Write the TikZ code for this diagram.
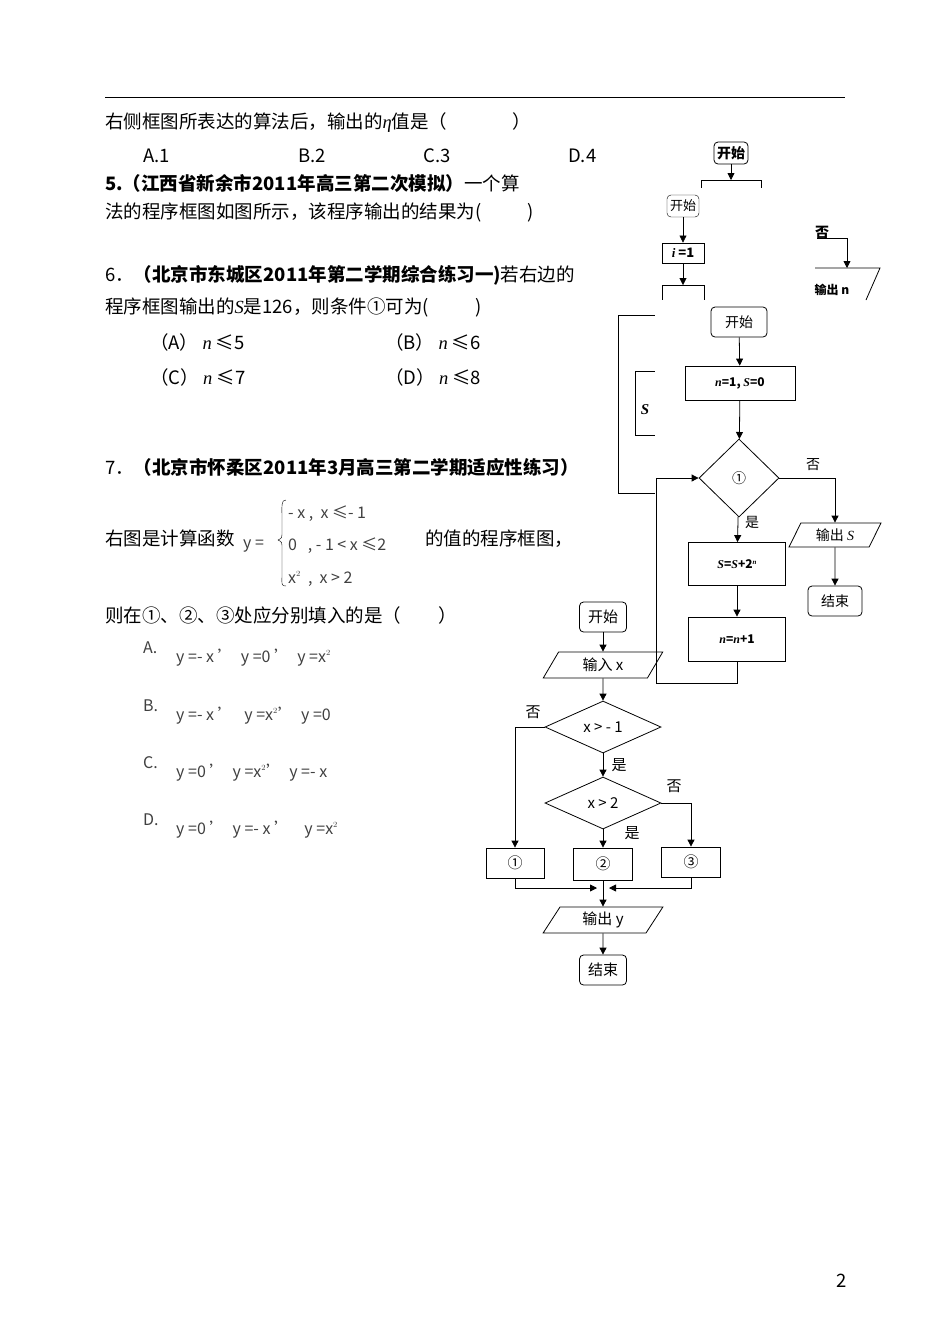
\documentclass[tikz,border=0pt]{standalone}
\usepackage{fontspec}
\setmainfont{Noto Sans CJK SC}
\usetikzlibrary{shapes.geometric,arrows.meta}
\newcommand{\vi}[1]{{\fontspec{Liberation Serif}\itshape #1}}
\tikzset{
  txt/.style={anchor=base west,inner sep=0pt,font=\fontsize{18.5}{21}\selectfont},
  sm/.style={anchor=base west,inner sep=0pt,font=\fontsize{16}{18}\selectfont,text=black!75},
  fbox/.style={draw,thick,minimum width=#1,minimum height=30pt,inner sep=1pt,font=\fontsize{14}{16}\selectfont},
  rbox/.style={draw,thick,rounded corners=4pt,minimum height=30pt,inner sep=3pt,font=\fontsize{14}{16}\selectfont},
  para/.style={draw,thick,trapezium,trapezium left angle=65,trapezium right angle=115,minimum width=#1,minimum height=26pt,inner sep=1pt,trapezium stretches=true,font=\fontsize{14}{16}\selectfont},
  dia/.style={draw,thick,diamond,aspect=2.2,inner sep=1pt,font=\fontsize{14}{16}\selectfont},
  arr/.style={thick,-{Triangle[length=7pt,width=7pt]}},
  lin/.style={thick},
  lab/.style={inner sep=1pt,font=\fontsize{14}{16}\selectfont},
}
\begin{document}
\begin{tikzpicture}[x=1pt,y=-1pt]
\useasboundingbox (0,0) rectangle (950,1342);
\fill[white] (0,0) rectangle (950,1342);
\draw[line width=1pt] (105,97) -- (845,97);
% text
\node[txt] (t1) at (105,128) {右侧框图所表达的算法后，输出的\vi{η}值是（\hspace{3.5em}）};
\node[txt] (oa) at (143,162) {A.1};
\node[txt] (ob) at (298,162) {B.2};
\node[txt] (oc) at (423,162) {C.3};
\node[txt] (od) at (568,162) {D.4};
\node[txt] (t5a) at (105,190) {\textbf{5.（江西省新余市2011年高三第二次模拟）}一个算};
\node[txt] (t5b) at (105,218) {法的程序框图如图所示，该程序输出的结果为(\hspace{2.5em})};
\node[txt] (t6a) at (105,281) {6．\textbf{（北京市东城区2011年第二学期综合练习一)}若右边的};
\node[txt] (t6b) at (105,313) {程序框图输出的\vi{S}是126，则条件①可为(\hspace{2.5em})};
\node[txt] (t6A) at (150,349) {（A） \vi{n} ≤5};
\node[txt] (t6B) at (385,349) {（B） \vi{n} ≤6};
\node[txt] (t6C) at (150,384) {（C） \vi{n} ≤7};
\node[txt] (t6D) at (385,384) {（D） \vi{n} ≤8};
\node[txt] (t7a) at (105,474) {7．\textbf{（北京市怀柔区2011年3月高三第二学期适应性练习）}};
\node[txt] (t7b) at (105,545) {右图是计算函数};
\node[sm] (yeq) at (243,548) {y =};
\draw[thin] (286,500) .. controls (281,500) and (282,505) .. (282,520) -- (282,532) .. controls (282,538) .. (278,540) .. controls (282,542) .. (282,548) -- (282,572) .. controls (282,585) and (281,586) .. (286,586);
\node[sm] (c1) at (288,518) {- x ,\ \ x ≤- 1};
\node[sm] (c2) at (288,550) {0\ \ \ , - 1 < x ≤2};
\node[sm] (c3) at (288,583) {x$^{\scriptscriptstyle 2}$\ \ , \ x > 2};
\node[txt] (t7c) at (425,545) {的值的程序框图，};
\node[txt] (t7d) at (105,622) {则在①、②、③处应分别填入的是（\hspace{2em}）};
\node[sm] (qa) at (143,653) {A.};
\node[sm] (qaf) at (176,662) {y =- x ’\ \ y =0 ’\ \ y =x$^{\scriptscriptstyle 2}$};
\node[sm] (qb) at (143,711) {B.};
\node[sm] (qbf) at (176,720) {y =- x ’\ \ \ y =x$^{\scriptscriptstyle 2}$’\ \ y =0};
\node[sm] (qc) at (143,768) {C.};
\node[sm] (qcf) at (176,777) {y =0 ’\ \ y =x$^{\scriptscriptstyle 2}$’\ \ y =- x};
\node[sm] (qd) at (143,825) {D.};
\node[sm] (qdf) at (176,834) {y =0 ’\ \ y =- x ’\ \ \ \ y =x$^{\scriptscriptstyle 2}$};
\node[txt] (pg) at (836,1287) {2};

% fragment 1
\node[rbox,minimum height=22pt,font=\fontsize{14}{16}\selectfont\bfseries] (f1s) at (731,153) {开始};
\coordinate (f1b) at (731,180);
\draw[arr] (f1s) -- (f1b);
\draw[thick] (701,180) -- (701,188) (761,180) -- (761,188) (701,180) -- (761,180);
% fragment 2
\fill[white] (655,188) rectangle (880,300);
\node[rbox,minimum height=22pt,thin,font=\fontsize{13}{15}\selectfont] (f2s) at (683,206) {开始};
\node[draw,thick,minimum width=42pt,minimum height=20pt,inner sep=1pt,font=\fontsize{13}{15}\selectfont\bfseries] (f2i) at (683,253) {\vi{i} =1};
\coordinate (f2c) at (683,285);
\draw[arr,thin] (f2s) -- (f2i);
\draw[arr,thin] (f2i) -- (f2c);
\draw[thick] (662,285) -- (704,285) (662,285) -- (662,300) (704,285) -- (704,300);
\node[lab,font=\fontsize{14}{16}\selectfont\bfseries] (f2n) at (822,232) {否};
\coordinate (f2a) at (817,238);
\coordinate (f2p) at (847,268);
\draw[lin] (f2a) -- (847,238);
\draw[arr] (847,238) -- (f2p);
\draw[thick] (815,268) -- (880,268) -- (866,300);
\node[lab,font=\fontsize{12}{14}\selectfont\bfseries] (f2o) at (832,290) {输出 n};
% fragment 3
\fill[white] (617,313) rectangle (660,495);
\coordinate (f3a) at (655,315);
\coordinate (f3b) at (655,493);
\draw[lin] (f3a) -- (618,315) -- (618,493) -- (f3b);
\draw[thick] (655,371) -- (635,371) -- (635,435) -- (655,435);
\node[lab,font=\fontsize{15}{16}\selectfont\bfseries] (f3s) at (645,410) {\vi{S}};
% main scan
\fill[white] (655,305) rectangle (880,688);
\node[rbox,minimum width=56pt] (ms) at (739,322) {开始};
\node[draw,thick,minimum width=110pt,minimum height=34pt,font=\fontsize{12}{14}\selectfont\bfseries] (mi) at (740,383) {\vi{n}=1, \vi{S}=0};
\node[dia,minimum width=80pt,minimum height=78pt] (md) at (739,478) {①};
\node[draw,thick,minimum width=97pt,minimum height=43pt,font=\fontsize{12}{14}\selectfont\bfseries] (mu) at (737,564) {\vi{S}=\vi{S}+2\raisebox{4pt}{\fontsize{7}{8}\selectfont\vi{n}}};
\node[draw,thick,minimum width=97pt,minimum height=44pt,font=\fontsize{12}{14}\selectfont\bfseries] (mn) at (737,639) {\vi{n}=\vi{n}+1};
\node[para=92pt,minimum height=24pt] (mo) at (835,535) {输出 \vi{S}};
\node[rbox,minimum width=54pt] (me) at (835,601) {结束};
\node[lab] (myes) at (752,522) {是};
\node[lab] (mno) at (813,465) {否};
\draw[arr] (ms) -- (mi);
\draw[arr] (mi) -- (md);
\draw[arr] (md) -- (mu);
\draw[arr] (mu) -- (mn);
\draw[arr] (md.east) -| (mo.north);
\draw[arr] (mo) -- (me);
\draw[arr] (mn.south) -- (737,683) -- (656,683) -- (656,478) -- (md.west);

% lower flowchart
\node[rbox,minimum width=47pt,font=\fontsize{15}{17}\selectfont] (ls) at (603,617) {开始};
\node[para=120pt,font=\fontsize{15}{17}\selectfont] (lin) at (603,665) {输入 x};
\node[dia,minimum width=116pt,minimum height=52pt,font=\fontsize{15}{17}\selectfont] (ld1) at (603,727) {x > - 1};
\node[dia,minimum width=116pt,minimum height=52pt,font=\fontsize{15}{17}\selectfont] (ld2) at (603,803) {x > 2};
\node[fbox=58pt,font=\fontsize{15}{17}\selectfont] (lb1) at (515,863) {①};
\node[fbox=59pt,minimum height=32pt,font=\fontsize{15}{17}\selectfont] (lb2) at (603,864) {②};
\node[fbox=59pt,font=\fontsize{15}{17}\selectfont] (lb3) at (691,862) {③};
\node[para=120pt,font=\fontsize{15}{17}\selectfont] (lout) at (603,920) {输出 y};
\node[rbox,minimum width=47pt,font=\fontsize{15}{17}\selectfont] (le) at (603,970) {结束};
\node[lab,font=\fontsize{15}{17}\selectfont] (ln1) at (533,712) {否};
\node[lab,font=\fontsize{15}{17}\selectfont] (ly1) at (619,765) {是};
\node[lab,font=\fontsize{15}{17}\selectfont] (ln2) at (674,786) {否};
\node[lab,font=\fontsize{15}{17}\selectfont] (ly2) at (632,833) {是};
\coordinate (m1) at (597,888);
\coordinate (m3) at (609,888);
\draw[arr] (ls) -- (lin);
\draw[arr] (lin) -- (ld1);
\draw[arr] (ld1) -- (ld2);
\draw[arr] (ld2) -- (lb2);
\draw[arr] (ld1.west) -| (lb1.north);
\draw[arr] (ld2.east) -| (lb3.north);
\draw[arr] (lb1.south) |- (m1);
\draw[arr] (lb3.south) |- (m3);
\draw[arr] (lb2) -- (lout);
\draw[arr] (lout) -- (le);
\end{tikzpicture}
\end{document}
